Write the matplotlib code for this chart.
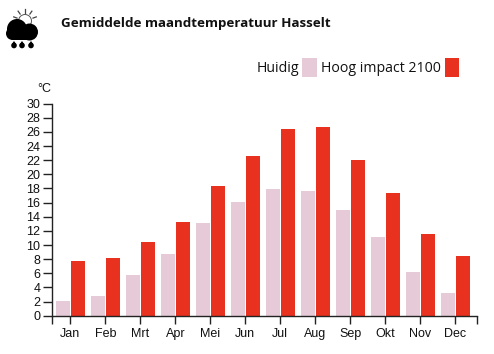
import matplotlib
matplotlib.use('Agg')
import matplotlib.pyplot as plt
from matplotlib.patches import Circle, Rectangle, Polygon
import numpy as np

W, H = 494, 354

months = ['Jan', 'Feb', 'Mrt', 'Apr', 'Mei', 'Jun', 'Jul', 'Aug', 'Sep', 'Okt', 'Nov', 'Dec']
huidig = [2.1, 2.8, 5.7, 8.7, 13.1, 16.1, 17.9, 17.7, 14.9, 11.1, 6.2, 3.2]
hoog_impact = [7.8, 8.2, 10.5, 13.3, 18.4, 22.6, 26.4, 26.7, 22.1, 17.4, 11.5, 8.5]
yticks = list(range(0, 31, 2))

PINK = '#e6cad7'
RED = '#e8321f'
DARK = '#222222'

plt.rcParams['font.family'] = ['Liberation Sans', 'DejaVu Sans']

fig = plt.figure(figsize=(W / 100, H / 100), dpi=100, facecolor='white')

# plot area in pixels: left 52, right 476.7, top 103.7, bottom 315.7
ax = fig.add_axes([52 / W, 1 - 315.7 / H, (476.7 - 52) / W, 212 / H])
x = np.arange(len(months))
ax.bar(x - 0.21, huidig, width=0.4, color=PINK)
ax.bar(x + 0.22, hoog_impact, width=0.4, color=RED)

ax.set_xlim(-0.523, 11.61)
ax.set_ylim(0, 30)
ax.set_yticks(yticks)
ax.set_xticks(x)
ax.set_xticklabels(months)
ax.set_xticks([-0.523, 11.61], minor=True)
ax.tick_params(axis='y', length=6.5, width=1, color=DARK, labelsize=9, pad=2, labelcolor='#111111')
ax.tick_params(axis='x', which='both', length=5.5, width=1, color=DARK, labelsize=9, pad=3.2, labelcolor='#111111')
for side in ['top', 'right']:
    ax.spines[side].set_visible(False)
for side in ['left', 'bottom']:
    ax.spines[side].set_linewidth(1)
    ax.spines[side].set_color(DARK)

# overlay in pixel coordinates for title, legend and icon
ov = fig.add_axes([0, 0, 1, 1], facecolor='none')
ov.set_xlim(0, W)
ov.set_ylim(H, 0)
ov.axis('off')

ov.text(60.5, 23, 'Gemiddelde maandtemperatuur Hasselt', fontsize=9.65, fontweight='bold',
        family='Open Sans', color='#111111', va='center', ha='left')
ov.text(37, 88.5, '°C', fontsize=9, color='#111111', va='center', ha='left')

ov.text(256.5, 68, 'Huidig', fontsize=10.2, family='Open Sans', color='#111111', va='center', ha='left')
ov.add_patch(Rectangle((302, 58), 15, 19, color=PINK, lw=0))
ov.text(321, 68, 'Hoog impact 2100', fontsize=10.2, family='Open Sans', color='#111111', va='center', ha='left')
ov.add_patch(Rectangle((445, 58), 14, 19, color=RED, lw=0))

# weather icon: sun behind a cloud, three drops
for a in [200, 235, 270, 305, 340]:
    r = np.deg2rad(a)
    ov.plot([25 + 8.5 * np.cos(r), 25 + 12 * np.cos(r)], [21 + 8.5 * np.sin(r), 21 + 12 * np.sin(r)],
            color='#444444', lw=0.9)
ov.add_patch(Circle((25, 21), 6.5, facecolor='white', edgecolor='#555555', lw=0.7))
ov.add_patch(Circle((17, 29), 10, color='black', lw=0))
ov.add_patch(Circle((29.5, 32), 8.5, color='black', lw=0))
ov.add_patch(Circle((12.5, 33.5), 6.5, color='black', lw=0))
ov.add_patch(Rectangle((12, 33), 18, 7, color='black', lw=0))
for cx in [14, 22, 31]:
    ov.add_patch(Circle((cx, 45.5), 2.8, color='black', lw=0))
    ov.add_patch(Polygon([(cx - 2.5, 44.5), (cx + 2.5, 44.5), (cx, 41)], color='black', lw=0))

fig.savefig('out.png', dpi=100)
